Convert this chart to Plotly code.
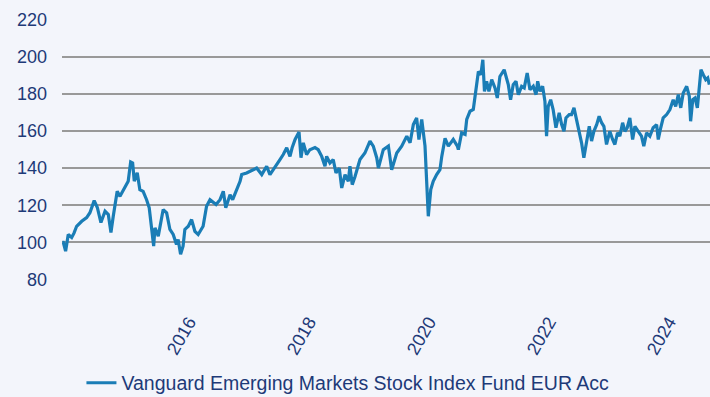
import plotly.graph_objects as go

# Fund price history, rebased to 100 at launch of the period
dates = [
    "2014-02-14", "2014-02-20", "2014-03-06", "2014-03-22", "2014-04-12", "2014-04-26", "2014-05-12",
    "2014-06-12", "2014-07-12", "2014-08-01", "2014-08-27", "2014-09-15", "2014-10-07", "2014-11-01",
    "2014-11-21", "2014-12-07", "2014-12-21",
    "2015-01-14", "2015-01-31", "2015-03-02", "2015-03-22", "2015-04-06", "2015-04-18", "2015-04-28",
    "2015-05-16", "2015-06-01", "2015-06-21", "2015-07-12", "2015-07-28", "2015-08-24", "2015-09-01",
    "2015-09-21", "2015-10-21", "2015-11-11", "2015-12-01", "2015-12-21",
    "2016-01-10", "2016-01-20", "2016-02-04", "2016-02-19", "2016-03-01", "2016-03-22", "2016-04-11",
    "2016-05-01", "2016-05-21", "2016-06-20", "2016-07-11", "2016-08-01", "2016-09-07", "2016-10-01",
    "2016-10-21", "2016-11-05", "2016-12-01", "2016-12-17",
    "2017-01-10", "2017-01-31", "2017-02-10", "2017-03-12", "2017-04-21", "2017-05-12", "2017-06-12",
    "2017-07-12", "2017-08-01", "2017-09-01", "2017-10-01", "2017-10-21", "2017-11-11", "2017-12-01",
    "2017-12-14",
    "2018-01-01", "2018-01-25", "2018-02-06", "2018-02-20", "2018-03-12", "2018-04-01", "2018-05-02",
    "2018-05-22", "2018-06-12", "2018-07-02", "2018-07-12", "2018-08-01", "2018-08-21", "2018-09-07",
    "2018-09-27", "2018-10-12", "2018-11-01", "2018-11-21", "2018-12-01", "2018-12-15",
    "2019-01-01", "2019-01-31", "2019-03-02", "2019-04-02", "2019-04-22", "2019-05-13", "2019-05-23",
    "2019-06-13", "2019-06-22", "2019-07-23", "2019-08-12", "2019-09-12", "2019-10-12", "2019-11-12",
    "2019-12-02", "2019-12-22",
    "2020-01-11", "2020-01-25", "2020-02-11", "2020-03-02", "2020-03-12", "2020-03-22", "2020-04-06",
    "2020-04-21", "2020-05-12", "2020-06-01", "2020-06-12", "2020-07-02", "2020-07-22", "2020-08-21",
    "2020-09-15", "2020-09-21", "2020-10-11", "2020-11-01", "2020-11-11", "2020-12-01", "2020-12-21",
    "2021-01-07", "2021-01-21", "2021-02-05", "2021-02-17", "2021-02-27", "2021-03-12", "2021-03-26",
    "2021-04-12", "2021-05-02", "2021-05-16", "2021-06-01", "2021-06-27", "2021-07-22", "2021-08-05",
    "2021-08-21", "2021-09-07", "2021-09-21", "2021-10-11", "2021-10-27", "2021-11-14", "2021-12-01",
    "2021-12-21",
    "2022-01-07", "2022-01-17", "2022-01-31", "2022-02-16", "2022-03-02", "2022-03-12", "2022-03-22",
    "2022-04-06", "2022-04-21", "2022-05-08", "2022-05-28", "2022-06-12", "2022-06-26", "2022-07-08",
    "2022-07-28", "2022-08-11", "2022-08-26", "2022-09-11", "2022-09-27", "2022-10-11", "2022-10-25",
    "2022-11-11", "2022-11-27", "2022-12-11", "2022-12-25",
    "2023-01-11", "2023-01-26", "2023-02-10", "2023-02-24", "2023-03-12", "2023-04-01", "2023-04-18",
    "2023-05-02", "2023-05-18", "2023-06-01", "2023-06-18", "2023-07-02", "2023-07-16", "2023-08-01",
    "2023-08-18", "2023-09-01", "2023-09-21", "2023-10-11", "2023-10-25", "2023-11-11", "2023-12-01",
    "2023-12-21",
    "2024-01-11", "2024-01-21", "2024-02-05", "2024-02-20", "2024-03-12", "2024-04-01", "2024-04-21",
    "2024-05-06", "2024-05-22", "2024-06-06", "2024-06-21", "2024-07-12", "2024-07-28", "2024-08-05",
    "2024-08-18", "2024-09-01", "2024-09-15", "2024-09-27", "2024-10-07", "2024-10-21", "2024-11-05",
    "2024-11-17", "2024-11-27",
]

values = [
    100.0, 100.0, 95.3, 104.3, 102.7, 105.0, 108.7,
    111.4, 113.4, 116.0, 122.5, 118.8, 110.7, 116.8,
    115.0, 105.4, 114.1,
    127.5, 124.8, 130.2, 132.9, 143.3, 142.7, 133.0,
    137.5, 128.4, 127.5, 123.0, 118.6, 98.0, 107.9,
    103.4, 117.7, 115.9, 107.0, 104.3,
    98.9, 101.6, 93.6, 98.0, 107.0, 108.7, 112.3,
    106.0, 104.3, 108.7, 119.5, 123.0, 120.4, 123.0,
    127.5, 118.6, 125.7, 123.0,
    128.4, 132.9, 136.5, 137.4, 139.1, 140.0, 136.5,
    141.0, 136.5, 141.0, 144.6, 147.3, 150.9, 146.3,
    150.9,
    155.4, 159.4, 145.6, 153.6, 147.3, 149.9, 151.0,
    149.9, 146.3, 141.0, 146.3, 142.7, 144.6, 137.4,
    140.0, 129.3, 136.5, 132.9, 141.0, 131.1,
    135.5, 144.6, 148.1, 154.5, 151.8, 145.6, 140.0,
    147.3, 149.9, 151.8, 139.1, 148.1, 151.8, 157.2,
    153.6, 163.4,
    167.0, 155.4, 166.2, 151.8, 133.9, 114.1, 128.4,
    132.9, 136.5, 139.1, 146.3, 156.0, 151.8, 155.4,
    151.8, 149.9, 159.0, 158.1, 166.2, 170.6, 171.5,
    181.3, 192.0, 190.2, 198.3, 181.3, 186.7, 181.3,
    187.6, 183.1, 177.7, 189.3, 192.9, 184.9, 176.8,
    184.9, 186.7, 179.5, 184.0, 183.1, 191.1, 182.2,
    184.0,
    179.5, 186.7, 181.3, 184.0, 175.9, 157.2, 173.2,
    176.8, 171.5, 161.7, 169.7, 163.4, 159.8, 167.0,
    168.8, 168.8, 172.4, 166.2, 159.0, 153.6, 145.6,
    155.4, 162.5, 154.5, 159.8,
    163.4, 167.9, 164.4, 162.5, 152.7, 159.8, 155.4,
    152.7, 159.0, 157.2, 164.4, 159.8, 161.7, 167.0,
    155.4, 162.5, 159.8, 157.2, 151.8, 159.0, 157.2,
    161.7,
    163.4, 155.4, 161.7, 167.0, 168.8, 171.5, 176.8,
    173.2, 179.5, 172.4, 180.4, 184.0, 178.6, 165.2,
    176.8, 177.7, 172.4, 184.0, 192.9, 190.2, 187.6,
    188.5, 184.9,
]

series_name = "Vanguard Emerging Markets Stock Index Fund EUR Acc"
year_ticks = ["2016-01-01", "2018-01-01", "2020-01-01", "2022-01-01", "2024-01-01"]
year_labels = ["2016", "2018", "2020", "2022", "2024"]
y_ticks = [80, 100, 120, 140, 160, 180, 200, 220]

BG = "#F3F5FB"
NAVY = "#1E3A78"
LINE = "#1A7DB6"
GRID = "#999999"

fig = go.Figure()
fig.add_trace(go.Scatter(
    x=dates, y=values, mode="lines", name=series_name,
    line=dict(color=LINE, width=3.2),
))

fig.update_layout(
    width=710, height=397,
    margin=dict(l=62, r=0, t=19, b=117, autoexpand=False),
    paper_bgcolor=BG, plot_bgcolor=BG,
    font=dict(family="Liberation Sans, Arial, sans-serif", size=18, color=NAVY),
    showlegend=True,
    legend=dict(
        orientation="h", x=0.03, xanchor="left", y=-0.395, yanchor="middle",
        bgcolor="rgba(0,0,0,0)", font=dict(size=19.5, color=NAVY),
    ),
)
fig.update_xaxes(
    range=["2014-02-12", "2024-12-01"], automargin=False,
    tickvals=year_ticks, ticktext=year_labels,
    tickangle=-60, showgrid=False, zeroline=False, showline=False,
    ticks="", ticklabelstandoff=27, ticklabelshift=14,
)
fig.update_yaxes(
    range=[79.8, 220.2], tickvals=y_ticks, automargin=False,
    showgrid=True, gridcolor=GRID, gridwidth=1.5,
    zeroline=False, showline=False, ticks="", ticklabelstandoff=14,
)

fig.write_html("out.html")
